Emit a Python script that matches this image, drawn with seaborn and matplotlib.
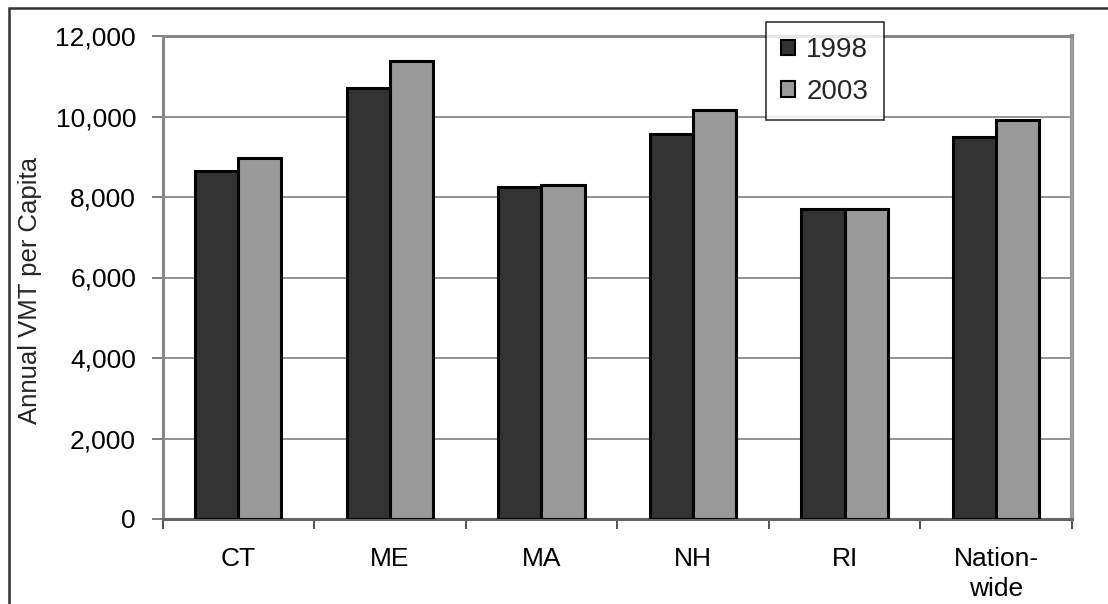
import matplotlib
matplotlib.use("Agg")
import matplotlib.pyplot as plt
import matplotlib.patches as mpatches
from matplotlib.ticker import FuncFormatter, FixedLocator
import seaborn as sns
import pandas as pd

# Annual vehicle miles travelled per capita, by state
states = ["CT", "ME", "MA", "NH", "RI", "Nation-\nwide"]
years = ["1998", "2003"]
vmt_1998 = [8642, 10717, 8242, 9558, 7708, 9500]
vmt_2003 = [8967, 11367, 8308, 10158, 7700, 9908]
y_ticks = [0, 2000, 4000, 6000, 8000, 10000, 12000]

df = pd.DataFrame({
    "state": states * 2,
    "year": [years[0]] * len(states) + [years[1]] * len(states),
    "vmt": vmt_1998 + vmt_2003,
})

sns.set_style("white")
plt.rcParams["font.family"] = ["Liberation Sans", "DejaVu Sans"]

W, H = 1108, 604
fig = plt.figure(figsize=(W / 100, H / 100), dpi=100)
ax = fig.add_axes([162.5 / W, 1 - 519 / H, (1072 - 162.5) / W, (519 - 36) / H])

sns.barplot(
    data=df, x="state", y="vmt", hue="year", order=states, hue_order=years,
    palette=["#333333", "#999999"], width=0.57, saturation=1,
    edgecolor="black", linewidth=2.2, ax=ax, legend=False, zorder=3,
)

ax.set_xlim(-0.5, len(states) - 0.5)
ax.set_ylim(0, 12000)
ax.set_yticks(y_ticks)
ax.yaxis.set_major_formatter(FuncFormatter(lambda v, p: f"{int(v):,}"))
ax.yaxis.grid(True, color="#808080", linewidth=1.2, zorder=0)
ax.set_axisbelow(True)

# category boundary ticks below the axis, labels centred under each group
ax.xaxis.set_minor_locator(FixedLocator([i - 0.5 for i in range(len(states) + 1)]))
ax.tick_params(axis="x", which="major", length=0, pad=20, labelsize=19, colors="black")
ax.tick_params(axis="x", which="minor", length=7, width=1.2, color="#333333", direction="out", bottom=True)
ax.tick_params(axis="y", which="major", length=8, width=1.2, color="#666666", direction="out",
               left=True, pad=11, labelsize=19, labelcolor="black")
for lbl in ax.get_xticklabels():
    lbl.set_linespacing(1.35)

for side in ("top", "left"):
    ax.spines[side].set_color("#888888")
    ax.spines[side].set_linewidth(2.2)
ax.spines["right"].set_color("#999999")
ax.spines["right"].set_linewidth(3)
ax.spines["bottom"].set_color("#666666")
ax.spines["bottom"].set_linewidth(2.2)

ax.set_xlabel("")
ax.set_ylabel("")
fig.text(30 / W, 1 - 290 / H, "Annual VMT per Capita", rotation=90,
         ha="center", va="center", fontsize=18.5)

handles = [mpatches.Patch(facecolor=c, edgecolor="black", linewidth=1.5)
           for c in ["#333333", "#999999"]]
leg = fig.legend(handles, years, loc="upper left",
                 bbox_to_anchor=(766 / W, 1 - 22 / H), borderaxespad=0,
                 fontsize=20, frameon=True, fancybox=False, shadow=False,
                 handlelength=0.5, handleheight=0.5, handletextpad=0.4,
                 labelspacing=0.55, borderpad=0.55)
leg.get_frame().set_edgecolor("black")
leg.get_frame().set_linewidth(1.2)
leg.set_zorder(10)

# outer chart border
fig.patches.append(mpatches.Rectangle((9 / W, -0.1), 1.2, 1.1 - 8 / H,
                                      transform=fig.transFigure, fill=False,
                                      edgecolor="#333333", linewidth=1.8))

fig.savefig("out.png", dpi=100, facecolor="white")
